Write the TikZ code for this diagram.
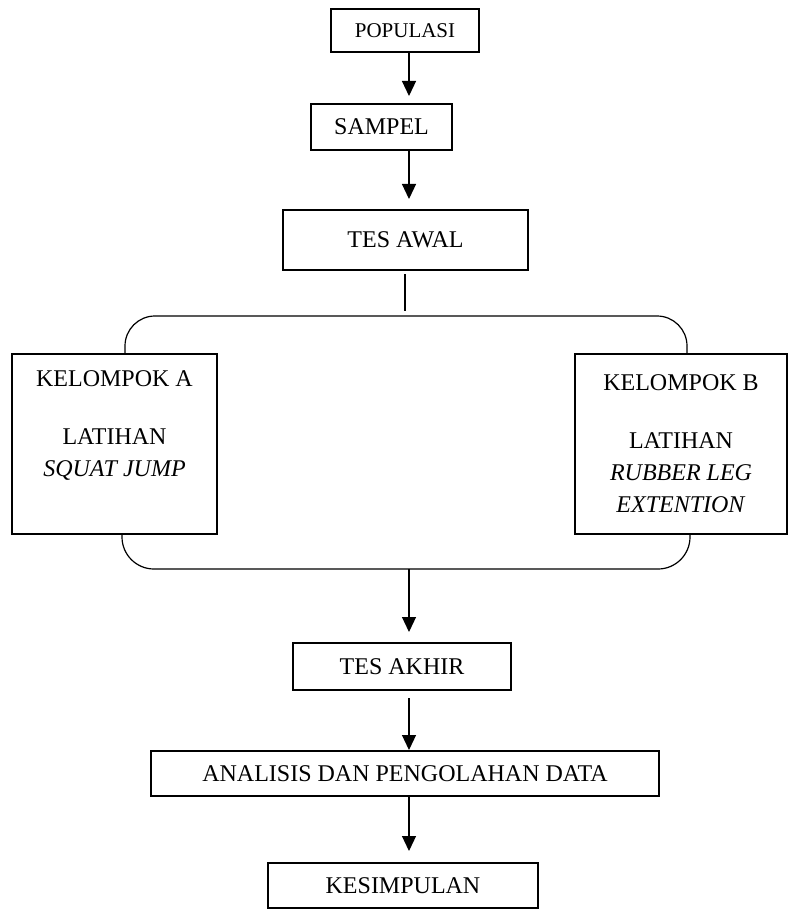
\documentclass[tikz,border=0pt]{standalone}
\usepackage{fontspec}
\setmainfont{Liberation Serif}
\usetikzlibrary{arrows.meta}

\begin{document}
\begin{tikzpicture}[
        x=0.5pt, y=-0.5pt,
        every node/.style={draw, line width=1pt, inner sep=0pt, align=center,
            font=\fontsize{12}{16}\selectfont},
        arr/.style={line width=0.6pt, -{Triangle[width=7pt,length=7.5pt]}},
        link/.style={line width=0.6pt}
    ]
    \useasboundingbox (0,0) rectangle (789,909);

    \node[minimum width=74pt, minimum height=21.5pt, font=\fontsize{10.5}{12}\selectfont] (populasi) at (405,30.5) {POPULASI};
    \node[minimum width=70.5pt, minimum height=23pt] (sampel) at (381.5,127) {SAMPEL};
    \node[minimum width=122.5pt, minimum height=30pt] (tesawal) at (405.5,240) {TES AWAL};
    \node[minimum width=102.5pt, minimum height=90pt] (grpA) at (114.5,444)
        {KELOMPOK A\\[13pt]LATIHAN\\\textit{SQUAT JUMP}\\\strut};
    \node[minimum width=106pt, minimum height=90pt] (grpB) at (681,444)
        {KELOMPOK B\\[13pt]LATIHAN\\\textit{RUBBER LEG}\\\textit{EXTENTION}};
    \node[minimum width=109pt, minimum height=23.5pt] (tesakhir) at (402,666.5) {TES AKHIR};
    \node[minimum width=254pt, minimum height=22.5pt] (analisis) at (405,773.5) {ANALISIS DAN PENGOLAHAN DATA};
    \node[minimum width=135pt, minimum height=22.5pt] (kesimpulan) at (403,885.5) {KESIMPULAN};

    \coordinate (ax) at (409,0);
    \coordinate (brtop) at (405,316);
    \coordinate (brbot) at (409,569);

    \draw[arr] (populasi.south -| ax) -- ([yshift=3.5pt]sampel.north -| ax);
    \draw[arr] (sampel.south -| ax) -- ([yshift=5pt]tesawal.north -| ax);
    \draw[link] ([yshift=-1.5pt]tesawal.south -| brtop) -- ([yshift=2.5pt]brtop);

    % bracket round the two groups
    \draw[link, rounded corners=15pt] ([xshift=5.25pt]grpA.north) |- (brtop) -| ([xshift=3pt]grpB.north);
    \draw[link, rounded corners=16pt] ([xshift=3.75pt]grpA.south) |- (brbot) -| ([xshift=4.5pt]grpB.south);

    \draw[arr] (brbot) -- ([yshift=5pt]tesakhir.north -| ax);
    \draw[arr] ([yshift=-3.5pt]tesakhir.south -| ax) -- (analisis.north -| ax);
    \draw[arr] (analisis.south -| ax) -- ([yshift=5.5pt]kesimpulan.north -| ax);
\end{tikzpicture}
\end{document}
